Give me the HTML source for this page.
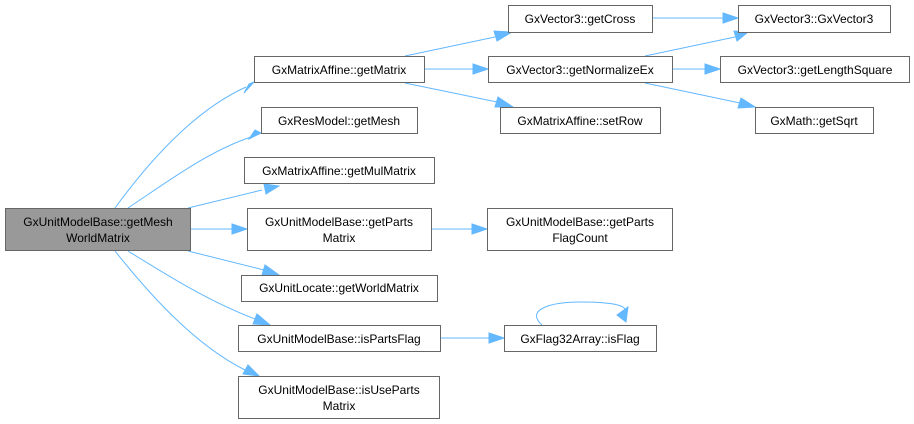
<!DOCTYPE html>
<html><head><style>
body{margin:0;background:#fff;}
svg{display:block;}
text{font-family:"Liberation Sans",Arial,sans-serif;font-size:12px;fill:#000;text-anchor:middle;}
.b{fill:#fff;stroke:#666;stroke-width:1;}
.e{fill:none;stroke:#63b8ff;stroke-width:1;}
.a{fill:#63b8ff;stroke:#63b8ff;}
</style></head><body>
<svg width="914" height="424" viewBox="0 0 914 424">
<!-- edges -->
<path class="e" d="M115,208 C150,160 195,110 246,87"/><polygon class="a" points="254,82 244,93 249,84"/>
<path class="e" d="M128,208 C170,180 210,150 254,136"/><polygon class="a" points="261,133 249,139 255,130"/>
<path class="e" d="M188,208 L262,190"/><polygon class="a" points="279,186 266,194 264,184"/>
<path class="e" d="M190,229 L232,229"/><polygon class="a" points="247,229 232,234 232,224"/>
<path class="e" d="M188,251 L264,270"/><polygon class="a" points="279,275 262,275 265,265"/>
<path class="e" d="M128,251 C170,277 210,302 255,319"/><polygon class="a" points="270,325 253,324 257,314"/>
<path class="e" d="M115,251 C150,295 195,345 245,370"/><polygon class="a" points="259,376 243,374 248,365"/>
<path class="e" d="M405,56 L495,37"/><polygon class="a" points="512,32 497,41 494,31"/>
<path class="e" d="M424,69 L473,69"/><polygon class="a" points="488,69 473,74 473,64"/>
<path class="e" d="M405,83 L497,102"/><polygon class="a" points="513,107 495,107 498,97"/>
<path class="e" d="M652,18 L723,18"/><polygon class="a" points="738,18 723,23 723,13"/>
<path class="e" d="M645,56 L735,37"/><polygon class="a" points="748,32 737,41 734,31"/>
<path class="e" d="M672,69 L705,69"/><polygon class="a" points="720,69 705,74 705,64"/>
<path class="e" d="M645,83 L740,103"/><polygon class="a" points="755,107 738,108 741,98"/>
<path class="e" d="M431,229 L472,229"/><polygon class="a" points="487,229 472,234 472,224"/>
<path class="e" d="M440,338 L489,338"/><polygon class="a" points="504,338 489,343 489,333"/>
<path class="e" d="M542,325 C525,310 550,302 580,302 C610,302 625,305 625,310"/><polygon class="a" points="617,315 628,307 626,322"/>
<!-- nodes -->
<rect x="5.5" y="208.5" width="185" height="42" fill="#999" stroke="#666"/>
<text x="98" y="226">GxUnitModelBase::getMesh</text><text x="98" y="242">WorldMatrix</text>
<rect class="b" x="254.5" y="56.5" width="170" height="26"/><text x="339" y="74">GxMatrixAffine::getMatrix</text>
<rect class="b" x="261.5" y="107.5" width="156" height="26"/><text x="339" y="125">GxResModel::getMesh</text>
<rect class="b" x="244.5" y="157.5" width="190" height="26"/><text x="339" y="175">GxMatrixAffine::getMulMatrix</text>
<rect class="b" x="247.5" y="208.5" width="184" height="42"/><text x="339" y="226">GxUnitModelBase::getParts</text><text x="339" y="242">Matrix</text>
<rect class="b" x="241.5" y="275.5" width="196" height="26"/><text x="339" y="292">GxUnitLocate::getWorldMatrix</text>
<rect class="b" x="238.5" y="325.5" width="202" height="26"/><text x="339" y="343">GxUnitModelBase::isPartsFlag</text>
<rect class="b" x="238.5" y="376.5" width="201" height="42"/><text x="339" y="394">GxUnitModelBase::isUseParts</text><text x="339" y="410">Matrix</text>
<rect class="b" x="508.5" y="5.5" width="144" height="27"/><text x="580" y="23">GxVector3::getCross</text>
<rect class="b" x="738.5" y="5.5" width="152" height="27"/><text x="814" y="23">GxVector3::GxVector3</text>
<rect class="b" x="488.5" y="56.5" width="184" height="26"/><text x="580" y="74">GxVector3::getNormalizeEx</text>
<rect class="b" x="720.5" y="56.5" width="189" height="26"/><text x="815" y="74">GxVector3::getLengthSquare</text>
<rect class="b" x="500.5" y="107.5" width="160" height="26"/><text x="580" y="125">GxMatrixAffine::setRow</text>
<rect class="b" x="755.5" y="107.5" width="118" height="26"/><text x="814" y="125">GxMath::getSqrt</text>
<rect class="b" x="487.5" y="208.5" width="185" height="42"/><text x="580" y="226">GxUnitModelBase::getParts</text><text x="580" y="242">FlagCount</text>
<rect class="b" x="504.5" y="325.5" width="152" height="26"/><text x="580" y="343">GxFlag32Array::isFlag</text>
</svg>
</body></html>
